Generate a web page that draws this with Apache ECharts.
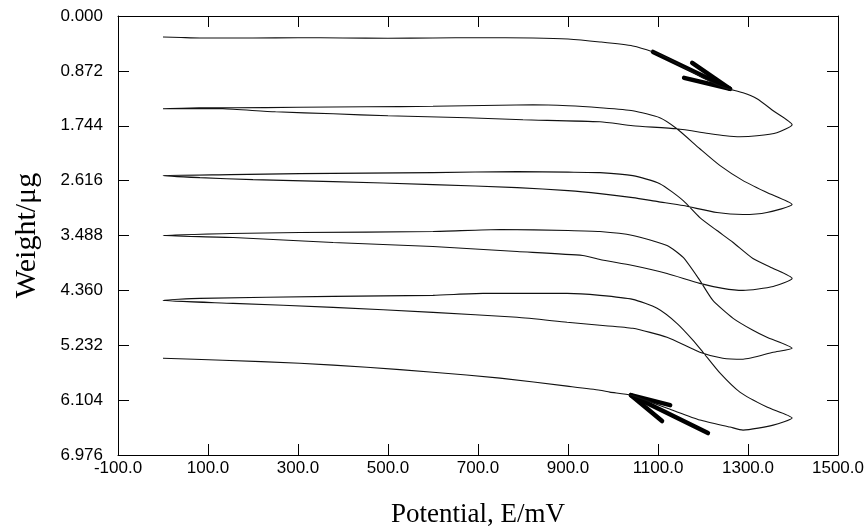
<!DOCTYPE html>
<html lang="en">
<head>
    <meta charset="UTF-8">
    <title>Weight vs Potential</title>
    <script src="https://cdn.jsdelivr.net/npm/echarts@6/dist/echarts.min.js"></script>
    <style>
        *{ margin: 0; padding: 0; }
        #chart{ width: 865px; height: 526px; background: #fff; }
    </style>
</head>
<body>
<div id="chart"></div>
<script>
    // tick positions
    var xTicks = [-100, 100, 300, 500, 700, 900, 1100, 1300, 1500];
    var yTicks = [0, 0.872, 1.744, 2.616, 3.488, 4.360, 5.232, 6.104, 6.976];

    // sweeps of the trace [E/mV, weight/ug], forward then reverse
    var fwd1 = [[0,0.333],[40,0.341],[82,0.349],[200,0.349],[300,0.345],[400,0.349],[500,0.353],[600,0.349],[700,0.345],[822,0.349],[900,0.365],[971,0.412],[1044,0.476],[1089,0.571],[1120,0.666],[1156,0.809],[1204,0.999],[1249,1.142],[1289,1.221],[1320,1.316],[1356,1.506],[1398,1.728]];
    var rev1 = [[1398,1.728],[1364,1.855],[1320,1.903],[1282,1.918],[1250,1.903],[1216,1.871],[1142,1.792],[1044,1.744],[971,1.681],[800,1.649],[676,1.617],[500,1.586],[378,1.554],[250,1.522],[133,1.475],[60,1.470],[0,1.475]];
    var fwd2 = [[0,1.475],[80,1.459],[156,1.459],[300,1.451],[453,1.443],[600,1.435],[822,1.411],[900,1.427],[971,1.459],[1044,1.506],[1104,1.617],[1142,1.792],[1193,2.109],[1238,2.378],[1289,2.616],[1342,2.806],[1398,2.997]];
    var rev2 = [[1398,2.997],[1342,3.123],[1289,3.155],[1231,3.123],[1156,3.012],[1100,2.950],[1044,2.886],[971,2.822],[900,2.775],[787,2.727],[600,2.679],[378,2.632],[200,2.600],[82,2.569],[0,2.537]];
    var fwd3 = [[0,2.537],[150,2.521],[304,2.505],[450,2.497],[600,2.489],[787,2.473],[900,2.481],[971,2.489],[1044,2.537],[1104,2.664],[1156,2.933],[1193,3.203],[1231,3.409],[1267,3.599],[1311,3.853],[1356,4.011],[1398,4.170]];
    var rev3 = [[1398,4.170],[1356,4.297],[1289,4.360],[1244,4.328],[1193,4.249],[1120,4.091],[1044,3.964],[971,3.869],[933,3.805],[787,3.742],[600,3.663],[378,3.599],[156,3.520],[0,3.488]];
    var fwd4 = [[0,3.488],[150,3.457],[304,3.441],[600,3.425],[749,3.393],[900,3.409],[971,3.425],[1044,3.488],[1120,3.647],[1156,3.837],[1193,4.202],[1222,4.519],[1267,4.804],[1311,4.994],[1342,5.105],[1398,5.280]];
    var rev4 = [[1398,5.280],[1356,5.343],[1289,5.454],[1244,5.438],[1193,5.343],[1120,5.105],[1044,4.963],[971,4.915],[898,4.867],[787,4.788],[600,4.709],[378,4.630],[156,4.566],[0,4.519]];
    var fwd5 = [[0,4.519],[82,4.487],[378,4.455],[600,4.439],[711,4.408],[898,4.408],[971,4.439],[1044,4.503],[1098,4.645],[1142,4.883],[1178,5.153],[1200,5.343],[1238,5.676],[1282,5.977],[1342,6.215],[1398,6.390]];
    var rev5 = [[1398,6.390],[1356,6.501],[1289,6.580],[1260,6.532],[1193,6.420],[1127,6.250],[1040,6.025],[993,5.977],[971,5.946],[898,5.882],[749,5.755],[600,5.660],[453,5.581],[304,5.518],[133,5.470],[0,5.438]];

    // direction arrows: tail, tip, two barbs
    var arrowOut = { tail: [1089,0.571], tip: [1260,1.157], barbA: [1176,0.745], barbB: [1158,0.983] };
    var arrowBack = { tail: [1211,6.627], tip: [1040,6.025], barbA: [1127,6.183], barbB: [1109,6.437] };

    var trace = [].concat(fwd1, rev1, fwd2, rev2, fwd3, rev3, fwd4, rev4, fwd5, rev5);

    function arrowLines(a) {
        return [
            { coords: [a.tail, a.tip] },
            { coords: [a.barbA, a.tip, a.barbB] }
        ];
    }

    var chart = echarts.init(document.getElementById('chart'));
    var axisLine = { show: true, onZero: false, lineStyle: { color: '#000', width: 1 } };
    var tick = { show: true, inside: true, length: 11, lineStyle: { color: '#000', width: 1 } };

    var option = {
        backgroundColor: '#fff',
        animation: false,
        grid: { left: 118, right: 27, top: 16, bottom: 71, outerBoundsMode: 'none', containLabel: false },
        xAxis: [{
            type: 'value', min: -100, max: 1500,
            name: 'Potential, E/mV', nameLocation: 'middle', nameGap: 46,
            nameTextStyle: { fontFamily: 'Liberation Serif', fontSize: 27, color: '#000' },
            axisLine: axisLine,
            axisTick: Object.assign({ customValues: xTicks }, tick),
            axisLabel: { customValues: xTicks, margin: 5, color: '#000', fontFamily: 'Liberation Sans', fontSize: 17,
                formatter: function (v) { return v.toFixed(1); } },
            splitLine: { show: false }
        }, {
            type: 'value', min: -100, max: 1500, position: 'top',
            axisLine: axisLine,
            axisTick: Object.assign({ customValues: xTicks }, tick),
            axisLabel: { show: false },
            splitLine: { show: false }
        }],
        yAxis: [{
            type: 'value', min: 0, max: 6.976, inverse: true,
            name: 'Weight/μg', nameLocation: 'middle', nameGap: 76,
            nameTextStyle: { fontFamily: 'Liberation Serif', fontSize: 30, color: '#000' },
            axisLine: axisLine,
            axisTick: Object.assign({ customValues: yTicks }, tick),
            axisLabel: { customValues: yTicks, margin: 15, color: '#000', fontFamily: 'Liberation Sans', fontSize: 17,
                formatter: function (v) { return v.toFixed(3); } },
            splitLine: { show: false }
        }, {
            type: 'value', min: 0, max: 6.976, inverse: true, position: 'right',
            axisLine: axisLine,
            axisTick: Object.assign({ customValues: yTicks }, tick),
            axisLabel: { show: false },
            splitLine: { show: false }
        }],
        series: [{
            type: 'line',
            data: trace,
            showSymbol: false,
            smooth: 0.2,
            lineStyle: { color: '#111', width: 1.1 },
            silent: true
        }, {
            type: 'lines',
            coordinateSystem: 'cartesian2d',
            polyline: true,
            data: arrowLines(arrowOut).concat(arrowLines(arrowBack)),
            lineStyle: { color: '#000', width: 4.5, cap: 'round', join: 'round', opacity: 1 },
            silent: true
        }]
    };
    chart.setOption(option);
</script>
</body>
</html>
